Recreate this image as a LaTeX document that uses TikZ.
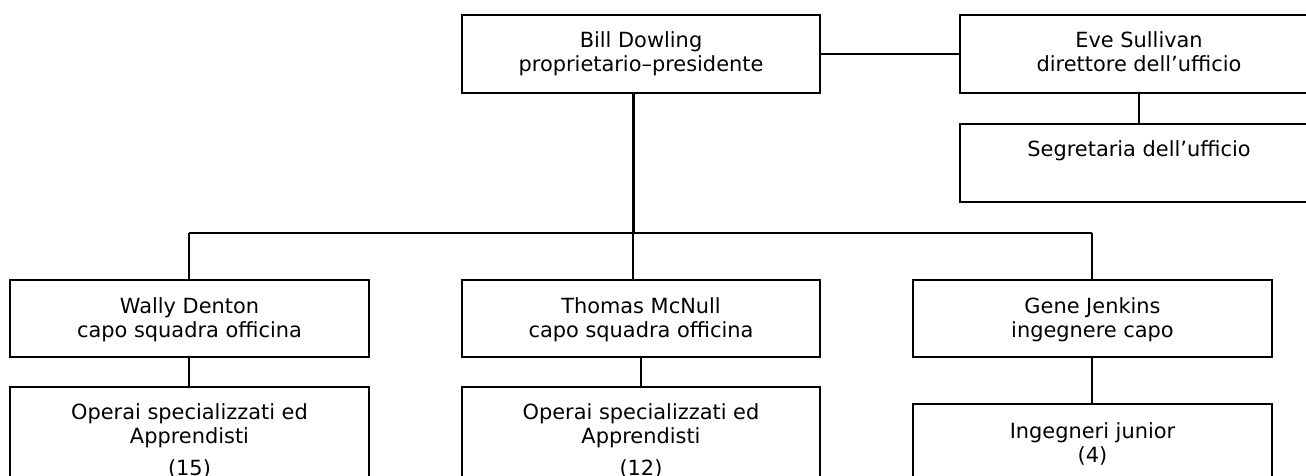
\documentclass[tikz,border=0pt]{standalone}
\usepackage{fontspec}
\setmainfont{DejaVu Sans}
\newcommand{\boxtext}[1]{\begin{tabular}[t]{@{}c@{}}#1\end{tabular}}
\begin{document}
\begin{tikzpicture}[x=1pt,y=-1pt,
  box/.style={draw=black, line width=1.5pt, rectangle, inner sep=0pt, fill=none},
  txt/.style={inner sep=0pt, anchor=base, font=\fontsize{20.9}{24}\selectfont},
  conn/.style={draw=black, line width=1.5pt},
  spineline/.style={draw=black, line width=3pt}]
\useasboundingbox (0,0) rectangle (1306,476);
% boxes
\node[box, minimum width=358pt, minimum height=78pt] (bill) at (641,54) {};
\node[box, minimum width=358pt, minimum height=78pt] (eve) at (1139,54) {};
\node[box, minimum width=358pt, minimum height=78pt] (seg) at (1139,163) {};
\node[box, minimum width=359pt, minimum height=77pt] (wally) at (189.5,318.5) {};
\node[box, minimum width=358pt, minimum height=77pt] (thomas) at (641,318.5) {};
\node[box, minimum width=359pt, minimum height=77pt] (gene) at (1092.5,318.5) {};
\node[box, minimum width=359pt, minimum height=153pt] (op1) at (189.5,463.5) {};
\node[box, minimum width=358pt, minimum height=153pt] (op2) at (641,463.5) {};
\node[box, minimum width=359pt, minimum height=136pt] (ing) at (1092.5,472) {};
% texts
\node[txt] (billT) at (641,48) {\boxtext{Bill Dowling\\proprietario–presidente}};
\node[txt] (eveT) at (1139,48) {\boxtext{Eve Sullivan\\direttore dell’ufficio}};
\node[txt] (segT) at (1139,157) {\boxtext{Segretaria dell’ufficio}};
\node[txt] (wallyT) at (189.5,313) {\boxtext{Wally Denton\\capo squadra officina}};
\node[txt] (thomasT) at (641,313) {\boxtext{Thomas McNull\\capo squadra officina}};
\node[txt] (geneT) at (1092.5,313) {\boxtext{Gene Jenkins\\ingegnere capo}};
\node[txt] (op1T) at (189.5,419) {\boxtext{Operai specializzati ed\\Apprendisti\\[8pt](15)}};
\node[txt] (op2T) at (641,419) {\boxtext{Operai specializzati ed\\Apprendisti\\[8pt](12)}};
\node[txt] (ingT) at (1092.5,438) {\boxtext{Ingegneri junior\\(4)}};
% connector coordinates
\coordinate (spine) at (633,233);
\coordinate (busL) at (189,233);
\coordinate (busR) at (1092,233);
% connectors
\draw[conn] (bill.east) -- (eve.west);
\draw[conn] (eve.south) -- (seg.north);
\draw[spineline] (bill.south -| spine) -- (spine);
\draw[conn] (busL) -- (busR);
\draw[conn] (busL) -- (wally.north -| busL);
\draw[conn] (spine) -- (thomas.north -| spine);
\draw[conn] (busR) -- (gene.north -| busR);
\draw[conn] (wally.south -| busL) -- (op1.north -| busL);
\draw[conn] (thomas.south) -- (op2.north);
\draw[conn] (gene.south -| busR) -- (ing.north -| busR);
\end{tikzpicture}
\end{document}
